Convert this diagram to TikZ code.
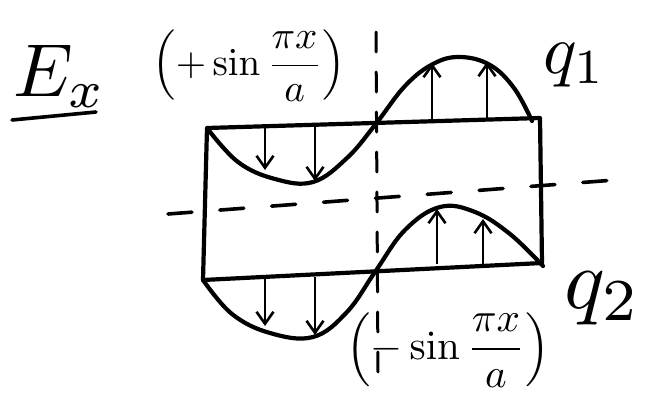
\documentclass[tikz,border=0pt]{standalone}
\usetikzlibrary{arrows.meta}
\begin{document}
\begin{tikzpicture}[x=1pt,y=-1pt,
  plate/.style={line width=4.2pt,line cap=round,line join=round},
  wave/.style={line width=4.2pt,line cap=round},
  fieldarrow/.style={line width=2.6pt,-{Straight Barb[length=12pt,width=17pt,line width=2.6pt]}},
  axis/.style={line width=3.6pt,line cap=round,dash pattern=on 24pt off 28pt},
  vaxis/.style={line width=3pt,line cap=round,dash pattern=on 20pt off 20pt},
  lbl/.style={inner sep=0pt}]
\useasboundingbox (0,0) rectangle (646,399);
% plates (corners)
\coordinate (p1a) at (207,128);
\coordinate (p1b) at (540,118);
\coordinate (p2a) at (203,280);
\coordinate (p2b) at (542,263);
\draw[plate] (p1a) -- (p1b) -- (p2b) -- (p2a) -- cycle;
% dashed axes
\coordinate (hA) at (168,214);
\coordinate (hB) at (615,180);
\draw[axis] (hA) -- (hB);
\coordinate (vA) at (376,32);
\coordinate (vB) at (378,372);
\draw[vaxis] (vA) -- (vB);
% waves
\draw[wave] plot[smooth,tension=0.65] coordinates {(207,128) (238,162) (275,179) (313,182) (347,158) (375,125) (405,86) (433,64) (460,57) (490,65) (514,88) (532,121)};
\draw[wave] plot[smooth,tension=0.65] coordinates {(203,280) (232,314) (270,333) (313,337) (347,312) (375,272) (405,230) (440,207) (475,212) (510,234) (543,266)};
% field arrows, upper plate
\coordinate (a1s) at (265,127); \coordinate (a1e) at (265,170);
\coordinate (a2s) at (315,126); \coordinate (a2e) at (315,181);
\coordinate (a3s) at (432,122); \coordinate (a3e) at (432,63);
\coordinate (a4s) at (487,121); \coordinate (a4e) at (487,62);
\draw[fieldarrow] (a1s) -- (a1e);
\draw[fieldarrow] (a2s) -- (a2e);
\draw[fieldarrow] (a3s) -- (a3e);
\draw[fieldarrow] (a4s) -- (a4e);
% field arrows, lower plate
\coordinate (b1s) at (265,278); \coordinate (b1e) at (265,326);
\coordinate (b2s) at (315,277); \coordinate (b2e) at (315,335);
\coordinate (b3s) at (437,264); \coordinate (b3e) at (437,209);
\coordinate (b4s) at (483,265); \coordinate (b4e) at (483,219);
\draw[fieldarrow] (b1s) -- (b1e);
\draw[fieldarrow] (b2s) -- (b2e);
\draw[fieldarrow] (b3s) -- (b3e);
\draw[fieldarrow] (b4s) -- (b4e);
% labels
\node[lbl,scale=7.5] (ex) at (60,76) {$E_x$};
\coordinate (uA) at (12,120);
\coordinate (uB) at (96,112);
\draw[line width=3.6pt,line cap=round] (uA) -- (uB);
\node[lbl,scale=3.9] (top) at (249,66) {$\left(+\sin\displaystyle\frac{\pi x}{a}\right)$};
\node[lbl,scale=4.1] (bot) at (448,350) {$\left(-\sin\displaystyle\frac{\pi x}{a}\right)$};
\node[lbl,scale=7] (q1) at (575,65) {$q_1$};
\node[lbl,scale=8.5] (q2) at (603,298) {$q_2$};
\end{tikzpicture}
\end{document}
